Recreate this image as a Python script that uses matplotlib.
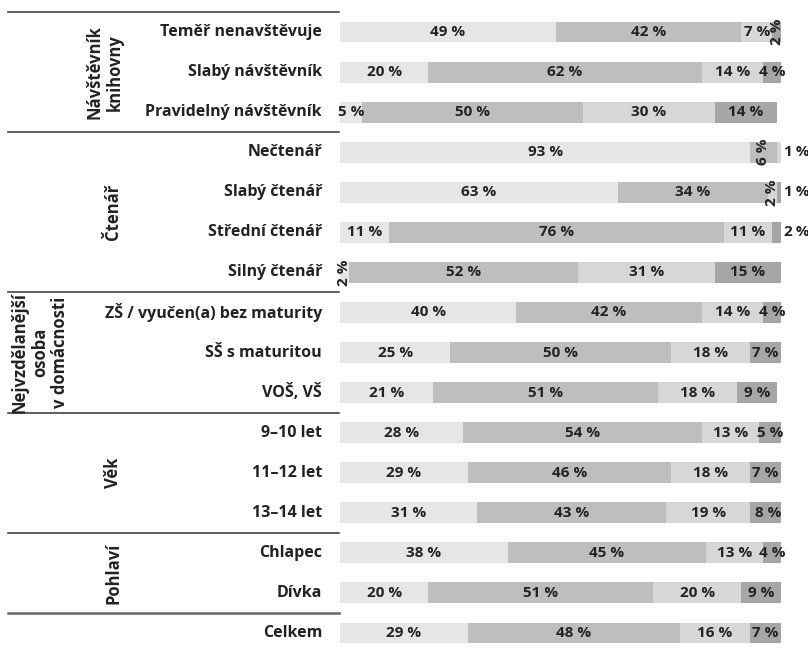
import matplotlib
matplotlib.use("Agg")
import matplotlib.pyplot as plt
import matplotlib.transforms as mtransforms

# rows, top to bottom
categories = ["Teměř nenavštěvuje", "Slabý návštěvník", "Pravidelný návštěvník",
              "Nečtenář", "Slabý čtenář", "Střední čtenář", "Silný čtenář",
              "ZŠ / vyučen(a) bez maturity", "SŠ s maturitou", "VOŠ, VŠ",
              "9–10 let", "11–12 let", "13–14 let",
              "Chlapec", "Dívka", "Celkem"]

seg1 = [49, 20, 5, 93, 63, 11, 2, 40, 25, 21, 28, 29, 31, 38, 20, 29]
seg2 = [42, 62, 50, 6, 34, 76, 52, 42, 50, 51, 54, 46, 43, 45, 51, 48]
seg3 = [7, 14, 30, 1, 2, 11, 31, 14, 18, 18, 13, 18, 19, 13, 20, 16]
seg4 = [2, 4, 14, 0, 1, 2, 15, 4, 7, 9, 5, 7, 8, 4, 9, 7]

groups = ["Návštěvník\nknihovny", "Čtenář", "Nejvzdělanější\nosoba\nv domácnosti", "Věk", "Pohlaví"]
group_rows = [(0, 2), (3, 6), (7, 9), (10, 12), (13, 14)]

colors = ["#e6e6e6", "#bebebe", "#d7d7d7", "#a6a6a6"]

plt.rcParams['font.family'] = ['Open Sans', 'DejaVu Sans']

W, H = 808, 651
fig = plt.figure(figsize=(W / 100, H / 100), dpi=100)
ax = fig.add_axes([340 / W, -2 / H, 441 / W, 641 / H])

segs = [seg1, seg2, seg3, seg4]
n = len(categories)
ys = list(range(n))
left = [0] * n
for k, s in enumerate(segs):
    ax.barh(ys, s, left=left, height=0.52, color=colors[k], linewidth=0)
    for i in range(n):
        v = s[i]
        if v == 0:
            continue
        cx = left[i] + v / 2
        txt = "%d %%" % v
        # tiny segments: rotated inside or pushed outside the bar
        outside = (v == 1) or (i == 5 and k == 3)
        rotated = (not outside) and (v == 2 or (i == 3 and k == 1))
        if outside:
            ax.text(100.6, i, "%d\u2009%%" % v, ha="left", va="center", fontsize=11,
                    fontweight="bold", color="#222222", clip_on=False)
        elif rotated:
            ax.text(cx, i, txt, ha="center", va="center", fontsize=11,
                    fontweight="bold", color="#222222", rotation=90, clip_on=False)
        else:
            ax.text(cx, i, txt, ha="center", va="center", fontsize=11,
                    fontweight="bold", color="#222222")
    left = [left[i] + s[i] for i in range(n)]

ax.set_xlim(0, 100)
ax.set_ylim(n - 0.5, -0.5)
ax.axis("off")

trans = mtransforms.blended_transform_factory(fig.transFigure, ax.transData)

# category labels
for i, c in enumerate(categories):
    fig.text(322 / W, i, c, ha="right", va="center", fontsize=11.5, fontweight="bold",
             color="#222222", transform=trans)

# separators
for b in [-0.5, 2.5, 6.5, 9.5, 12.5]:
    ax.plot([8 / W, 339 / W], [b, b], color="#333333", lw=1.1, transform=trans, clip_on=False)
ax.plot([8 / W, 339 / W], [14.5, 14.5], color="#666666", lw=1.8, transform=trans, clip_on=False)

# group labels
group_x = [105, 113, 40, 113, 113]
for g, (a, b), gx in zip(groups, group_rows, group_x):
    fig.text(gx / W, (a + b) / 2, g, ha="center", va="center", rotation=90, fontsize=12,
             fontweight="bold", color="#222222", linespacing=1.15, multialignment="center",
             transform=trans)

fig.savefig("out.png", dpi=100)
